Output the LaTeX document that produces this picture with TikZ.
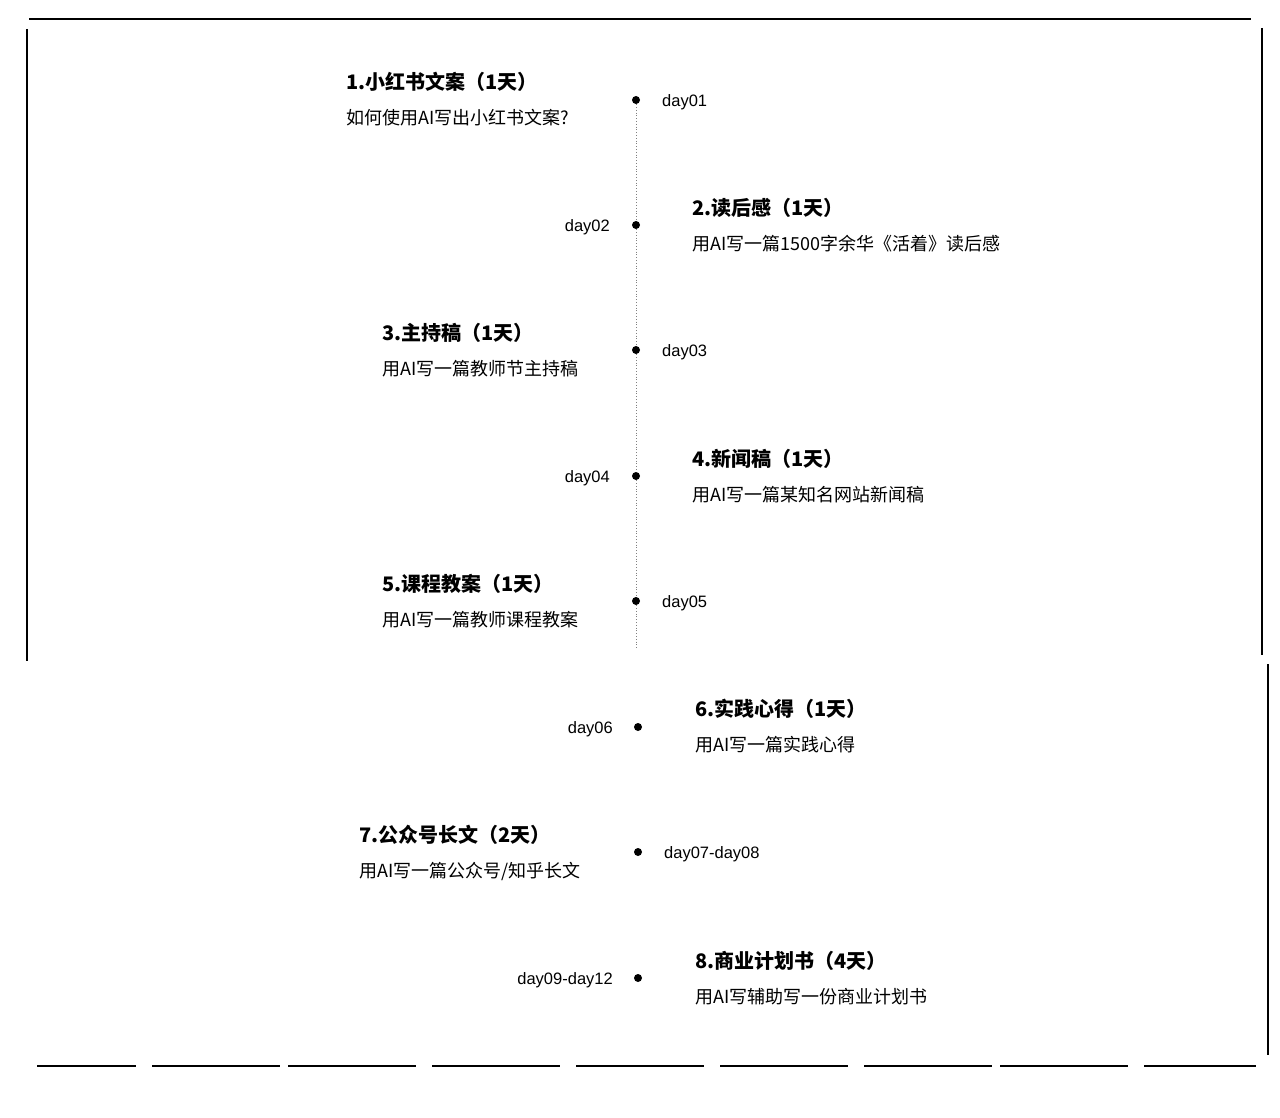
\documentclass[tikz,border=0pt]{standalone}
\usepackage{fontspec}
\setmainfont{Noto Sans CJK SC}
\newfontfamily\daysf{Liberation Sans}
\tikzset{
    x = 1pt, y = -1pt,
    title/.style = {anchor=west, inner sep=0pt, font=\fontsize{20}{24}\selectfont\bfseries},
    desc/.style = {anchor=west, inner sep=0pt, font=\fontsize{18}{22}\selectfont},
    dayleft/.style = {anchor=east, inner sep=0pt, yshift=-2pt, font=\fontsize{16.5}{20}\daysf},
    dayright/.style = {anchor=west, inner sep=0pt, yshift=-2pt, font=\fontsize{16.5}{20}\daysf},
    dot/.style = {circle, fill, inner sep=0pt, minimum size=8pt},
    frame/.style = {line width=1.3pt}
}

\begin{document}
\begin{tikzpicture}
    \useasboundingbox (0, 0) rectangle (1280, 1118);

    % frame
    \draw[frame] (29, 19) -- (1251, 19);
    \draw[frame] (27, 29) -- (27, 661);
    \draw[frame] (1262, 28) -- (1262, 655);
    \draw[frame] (1268, 664) -- (1268, 1055);
    \foreach \a/\b in {37/136, 152/280, 288/416, 432/560, 576/704, 720/848, 864/992, 1000/1128, 1144/1256}
        \draw[frame] (\a, 1066) -- (\b, 1066);

    % timeline
    \node[dot] (d1) at (636, 100) {};
    \node[dot] (d2) at (636, 225) {};
    \node[dot] (d3) at (636, 350) {};
    \node[dot] (d4) at (636, 476) {};
    \node[dot] (d5) at (636, 601) {};
    \node[dot] (d6) at (638, 727) {};
    \node[dot] (d7) at (638, 852) {};
    \node[dot] (d8) at (638, 978) {};
    \coordinate (end) at (636, 648);
    \draw[dotted, line width=0.8pt, gray] (d1) -- (d2) -- (d3) -- (d4) -- (d5) -- (end);

    \node[dayright] (l1) at (662, 100) {day01};
    \node[dayleft]  (l2) at (610, 225) {day02};
    \node[dayright] (l3) at (662, 350) {day03};
    \node[dayleft]  (l4) at (610, 476) {day04};
    \node[dayright] (l5) at (662, 601) {day05};
    \node[dayleft]  (l6) at (613, 727) {day06};
    \node[dayright] (l7) at (664, 852) {day07-day08};
    \node[dayleft]  (l8) at (613, 978) {day09-day12};

    % items
    \node[title] (t1) at (346, 82) {1.小红书文案（1天）};
    \node[desc]  (s1) at (346, 118) {如何使用AI写出小红书文案?};
    \node[title] (t2) at (692, 208) {2.读后感（1天）};
    \node[desc]  (s2) at (692, 244) {用AI写一篇1500字余华《活着》读后感};
    \node[title] (t3) at (382, 333) {3.主持稿（1天）};
    \node[desc]  (s3) at (382, 369) {用AI写一篇教师节主持稿};
    \node[title] (t4) at (692, 459) {4.新闻稿（1天）};
    \node[desc]  (s4) at (692, 495) {用AI写一篇某知名网站新闻稿};
    \node[title] (t5) at (382, 584) {5.课程教案（1天）};
    \node[desc]  (s5) at (382, 620) {用AI写一篇教师课程教案};
    \node[title] (t6) at (695, 709) {6.实践心得（1天）};
    \node[desc]  (s6) at (695, 745) {用AI写一篇实践心得};
    \node[title] (t7) at (359, 835) {7.公众号长文（2天）};
    \node[desc]  (s7) at (359, 871) {用AI写一篇公众号/知乎长文};
    \node[title] (t8) at (695, 961) {8.商业计划书（4天）};
    \node[desc]  (s8) at (695, 997) {用AI写辅助写一份商业计划书};
\end{tikzpicture}
\end{document}
